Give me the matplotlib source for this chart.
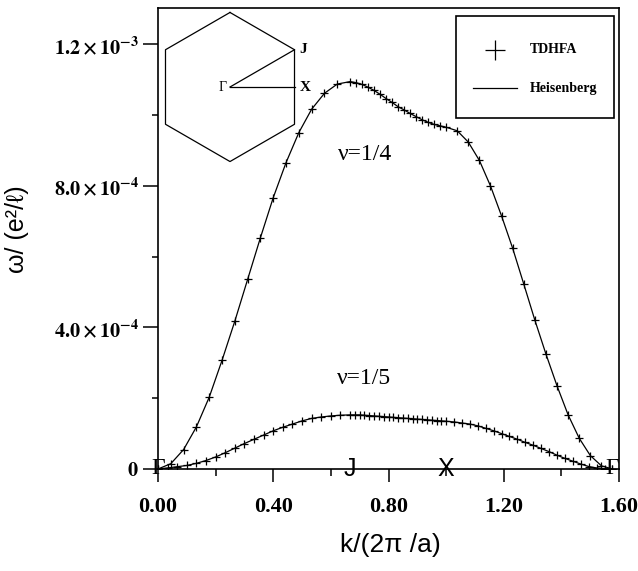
import numpy as np
import matplotlib
matplotlib.use('Agg')
import matplotlib.pyplot as plt
from matplotlib.patches import Rectangle

plt.rcParams['mathtext.fontset'] = 'stix'

# nu = 1/4 branch, path Gamma -> J -> X -> Gamma  (omega in units of 1e-4)
k_quarter = [0, 0.0444, 0.0889, 0.1333, 0.1778, 0.2222, 0.2667, 0.3111, 0.3556, 0.4,
             0.4444, 0.4889, 0.5333, 0.5778, 0.6222, 0.6667,
             0.6875, 0.7083, 0.7292, 0.75, 0.7708, 0.7917, 0.8125, 0.8333, 0.8542,
             0.875, 0.8958, 0.9167, 0.9375, 0.9583, 0.9792, 1.0,
             1.0385, 1.077, 1.1155, 1.154, 1.1925, 1.2309, 1.2694, 1.3079, 1.3464,
             1.3849, 1.4234, 1.4619, 1.5004, 1.5389, 1.5774]
w_quarter = [0, 0.15, 0.55, 1.19, 2.03, 3.07, 4.18, 5.36, 6.54, 7.67,
             8.66, 9.51, 10.17, 10.62, 10.88, 10.95,
             10.92, 10.87, 10.79, 10.70, 10.59, 10.47, 10.36, 10.24, 10.15,
             10.05, 9.96, 9.87, 9.80, 9.74, 9.70, 9.66,
             9.56, 9.24, 8.72, 8.00, 7.15, 6.24, 5.23, 4.21, 3.25,
             2.35, 1.53, 0.87, 0.38, 0.09, 0]

# nu = 1/5 branch
k_fifth = [0, 0.0333, 0.0667, 0.1, 0.1333, 0.1667, 0.2, 0.2333, 0.2667, 0.3, 0.3333,
           0.3667, 0.4, 0.4333, 0.4667, 0.5, 0.5333, 0.5667, 0.6, 0.6333, 0.6667,
           0.6833, 0.7, 0.7167, 0.7333, 0.75, 0.7667, 0.7833, 0.8, 0.8167, 0.8333,
           0.85, 0.8667, 0.8833, 0.9, 0.9167, 0.9333, 0.95, 0.9667, 0.9833, 1.0,
           1.0275, 1.055, 1.0825, 1.11, 1.1375, 1.165, 1.1925, 1.2199, 1.2474, 1.2749,
           1.3024, 1.3299, 1.3574, 1.3849, 1.4124, 1.4399, 1.4674, 1.4949, 1.5224,
           1.5499, 1.5774]
w_fifth = [0, 0.03, 0.065, 0.10, 0.16, 0.24, 0.34, 0.46, 0.59, 0.72, 0.84,
           0.96, 1.08, 1.18, 1.27, 1.36, 1.43, 1.47, 1.50, 1.52, 1.53,
           1.53, 1.53, 1.52, 1.51, 1.50, 1.49, 1.48, 1.47, 1.46, 1.45,
           1.44, 1.43, 1.42, 1.41, 1.40, 1.39, 1.38, 1.37, 1.36, 1.35,
           1.33, 1.30, 1.27, 1.22, 1.15, 1.08, 1.00, 0.92, 0.84, 0.75,
           0.67, 0.58, 0.49, 0.39, 0.30, 0.22, 0.14, 0.07, 0.03,
           0.01, 0]

sym_points = [0, 0.6667, 1.0, 1.5774]
sym_labels = ['Γ', 'J', 'X', 'Γ']

xticks = [0, 0.4, 0.8, 1.2, 1.6]
xlabels = ['0.00', '0.40', '0.80', '1.20', '1.60']
yticks = [0, 4e-4, 8e-4, 1.2e-3]
ylabels = [r'$\mathbf{0}$', r'$\mathbf{4.0\times10^{-4}}$',
           r'$\mathbf{8.0\times10^{-4}}$', r'$\mathbf{1.2\times10^{-3}}$']

fig = plt.figure(figsize=(6.38, 5.71), dpi=100)
ax = fig.add_axes([158/638, 1-469/571, 461/638, 461/571])

for k, w in [(k_quarter, w_quarter), (k_fifth, w_fifth)]:
    w = np.array(w) * 1e-4
    ax.plot(k, w, color='k', lw=0.9)
    ax.plot(k, w, ls='none', marker='+', ms=6, mew=0.9, color='k')

ax.set_xlim(0, 1.6)
ax.set_ylim(0, 1.303e-3)

ax.set_xticks(xticks)
ax.set_xticklabels(xlabels, family='Liberation Serif', weight='bold', fontsize=16)
ax.set_xticks([0.2, 0.6, 1.0, 1.4], minor=True)
ax.set_yticks(yticks)
ax.set_yticklabels(ylabels, fontsize=14.5)
ax.set_yticks([2e-4, 6e-4, 1e-3], minor=True)
ax.tick_params(axis='x', which='major', direction='out', length=9, width=1.1, pad=11)
ax.tick_params(axis='x', which='minor', direction='out', length=5, width=1.1)
ax.tick_params(axis='y', which='major', direction='out', length=11, width=1.1, pad=3)
ax.tick_params(axis='y', which='minor', direction='out', length=4.5, width=1.1)
for s in ax.spines.values():
    s.set_linewidth(1.2)

# symmetry point labels on the k axis
for x, lab in zip(sym_points, sym_labels):
    if lab == 'Γ':
        ax.text(x, 0, lab, ha='center', va='center', fontsize=17,
                family='Liberation Serif', clip_on=False)
    else:
        ax.text(x, 0, lab, ha='center', va='center', fontsize=18,
                family='Liberation Sans', clip_on=False)

ax.text(0.625, 8.88e-4, 'ν=1/4', fontsize=17, family='Liberation Serif', va='center')
ax.text(0.622, 2.57e-4, 'ν=1/5', fontsize=17, family='Liberation Serif', va='center')

fig.text(17/638, 1-229/571, 'ω/ (e²/ℓ)', rotation=90, ha='center', va='center',
         fontsize=18, family=['Liberation Sans', 'DejaVu Sans'])
fig.text(390/638, 1-545/571, 'k/(2π /a)', ha='center', va='center',
         fontsize=19, family=['Liberation Sans', 'DejaVu Sans'])

# legend box
ax.add_patch(Rectangle((0.646, 0.761), 0.343, 0.222, transform=ax.transAxes,
                       facecolor='white', edgecolor='k', lw=1.2, zorder=5))
ax.plot([0.731], [0.909], marker='+', ms=14, mew=0.9, color='k',
        transform=ax.transAxes, zorder=6)
ax.plot([0.683, 0.779], [0.826, 0.826], color='k', lw=0.9,
        transform=ax.transAxes, zorder=6)
ax.text(0.807, 0.909, 'TDHFA', transform=ax.transAxes, va='center', fontsize=10,
        family='Liberation Serif', weight='bold', zorder=6)
ax.text(0.807, 0.826, 'Heisenberg', transform=ax.transAxes, va='center', fontsize=10,
        family='Liberation Serif', weight='bold', zorder=6)

# Brillouin zone inset
ins = ax.inset_axes([-8/461, 300/461, 160/461, 164/461])
ins.set_xlim(-1.074, 1.074)
ins.set_ylim(-1.1, 1.1)
ins.axis('off')
ang = np.deg2rad([90, 30, -30, -90, -150, 150, 90])
ins.plot(np.cos(ang), np.sin(ang), color='k', lw=0.9)
jx, jy = np.cos(np.pi/6), np.sin(np.pi/6)
ins.plot([0, jx], [0, jy], color='k', lw=0.9)
ins.plot([0, jx], [0, 0], color='k', lw=0.9)
ins.text(jx + 0.07, jy, 'J', va='center', ha='left', fontsize=11,
         family='Liberation Serif', weight='bold')
ins.text(jx + 0.07, 0, 'X', va='center', ha='left', fontsize=11,
         family='Liberation Serif', weight='bold')
ins.text(-0.04, 0, 'Γ', va='center', ha='right', fontsize=10,
         family='Liberation Serif')

fig.savefig('out.png', dpi=100)
